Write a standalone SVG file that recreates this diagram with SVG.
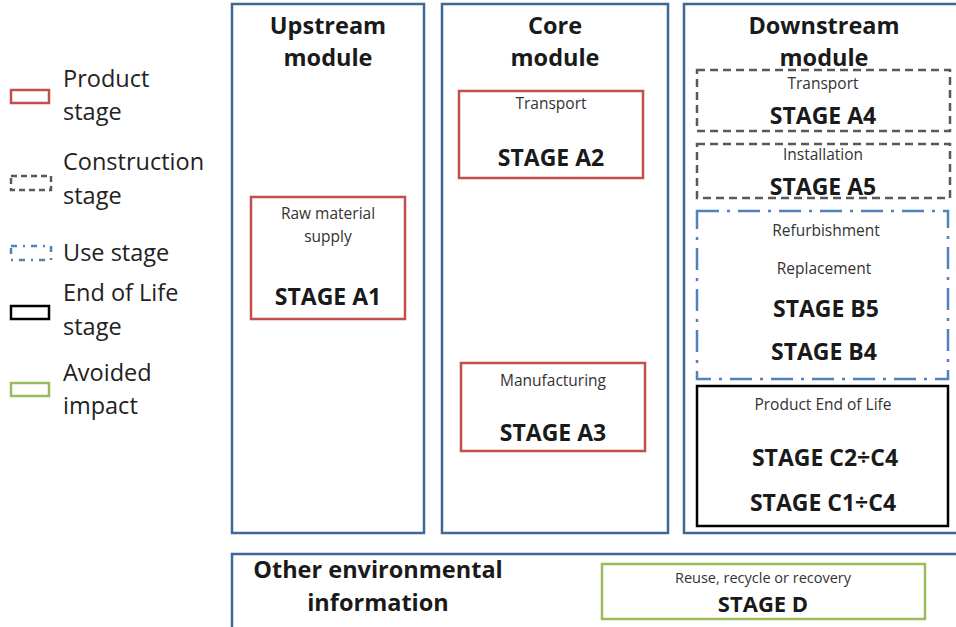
<svg xmlns="http://www.w3.org/2000/svg" width="956" height="627" viewBox="0 0 956 627">
<style>
text{font-family:"Open Sans","Noto Sans",sans-serif;fill:#1a1a1a;text-anchor:middle;dominant-baseline:central}
.mod{fill:#fff;stroke:#3f6896;stroke-width:2.5}
.ttl{font-size:23.5px;font-weight:bold}
.lg{font-size:23.5px;text-anchor:start;fill:#222}
.sm{font-size:15.5px;fill:#333}
.st{font-size:23px;font-weight:bold}
.prod{fill:#fff;stroke:#c0504d;stroke-width:2.5}
.cons{fill:#fff;stroke:#595959;stroke-width:2.5;stroke-dasharray:8 5}
.use{fill:#fff;stroke:#4f81bd;stroke-width:2.5;stroke-dasharray:22 8 3 8}
.eol{fill:#fff;stroke:#000;stroke-width:2.5}
.avo{fill:#fff;stroke:#9bbb59;stroke-width:2.5}
</style>
<rect width="956" height="627" fill="#fff"/>
<g id="legend">
<rect class="prod" x="11" y="90" width="38" height="13"/>
<text class="lg" x="63" y="78">Product</text>
<text class="lg" x="63" y="111">stage</text>
<rect class="cons" x="11" y="176" width="40" height="14" style="stroke-dasharray:6 4"/>
<text class="lg" x="63" y="161">Construction</text>
<text class="lg" x="63" y="195">stage</text>
<rect class="use" x="11" y="246" width="40" height="14" style="stroke-dasharray:6 6 2 6"/>
<text class="lg" x="63" y="252">Use stage</text>
<rect class="eol" x="11" y="306" width="38" height="13"/>
<text class="lg" x="63" y="292">End of Life</text>
<text class="lg" x="63" y="326">stage</text>
<rect class="avo" x="11" y="383" width="38" height="13"/>
<text class="lg" x="63" y="372">Avoided</text>
<text class="lg" x="63" y="405">impact</text>
</g>
<g id="upstream">
<rect class="mod" x="232" y="4" width="192" height="529"/>
<text class="ttl" x="328" y="25">Upstream</text>
<text class="ttl" x="328" y="57">module</text>
</g>
<g id="core">
<rect class="mod" x="442" y="4" width="226" height="529"/>
<text class="ttl" x="555" y="25">Core</text>
<text class="ttl" x="555" y="57">module</text>
</g>
<g id="downstream">
<rect class="mod" x="684" y="4" width="280" height="529"/>
<text class="ttl" x="824" y="25">Downstream</text>
<text class="ttl" x="824" y="57">module</text>
</g>
<g id="other">
<rect class="mod" x="232" y="554" width="740" height="80"/>
<text class="ttl" x="378" y="569">Other environmental</text>
<text class="ttl" x="378" y="602">information</text>
</g>
<g id="a1">
<rect class="prod" x="251" y="197" width="154" height="122"/>
<text class="sm" x="328" y="213">Raw material</text>
<text class="sm" x="328" y="236">supply</text>
<text class="st" x="328" y="296">STAGE A1</text>
</g>
<g id="a2">
<rect class="prod" x="459" y="91" width="184" height="87"/>
<text class="sm" x="551" y="103">Transport</text>
<text class="st" x="551" y="157">STAGE A2</text>
</g>
<g id="a3">
<rect class="prod" x="461" y="363" width="184" height="88"/>
<text class="sm" x="553" y="380">Manufacturing</text>
<text class="st" x="553" y="432">STAGE A3</text>
</g>
<g id="a4">
<rect class="cons" x="697" y="70" width="253" height="61"/>
<text class="sm" x="823" y="83">Transport</text>
<text class="st" x="823" y="115">STAGE A4</text>
</g>
<g id="a5">
<rect class="cons" x="697" y="144" width="253" height="54"/>
<text class="sm" x="823" y="154">Installation</text>
<text class="st" x="823" y="186">STAGE A5</text>
</g>
<g id="b">
<rect class="use" x="697" y="211" width="251" height="168"/>
<text class="sm" x="826" y="230">Refurbishment</text>
<text class="sm" x="824" y="268">Replacement</text>
<text class="st" x="826" y="308">STAGE B5</text>
<text class="st" x="824" y="351">STAGE B4</text>
</g>
<g id="c">
<rect class="eol" x="697" y="386" width="251" height="140"/>
<text class="sm" x="823" y="404">Product End of Life</text>
<text class="st" x="825" y="457">STAGE C2÷C4</text>
<text class="st" x="823" y="502">STAGE C1÷C4</text>
</g>
<g id="d">
<rect class="avo" x="602" y="564" width="323" height="55"/>
<text class="sm" x="763" y="577" style="font-size:14.5px">Reuse, recycle or recovery</text>
<text class="st" x="763" y="603" style="font-size:22px">STAGE D</text>
</g>
<g id="connectors"></g>
</svg>
